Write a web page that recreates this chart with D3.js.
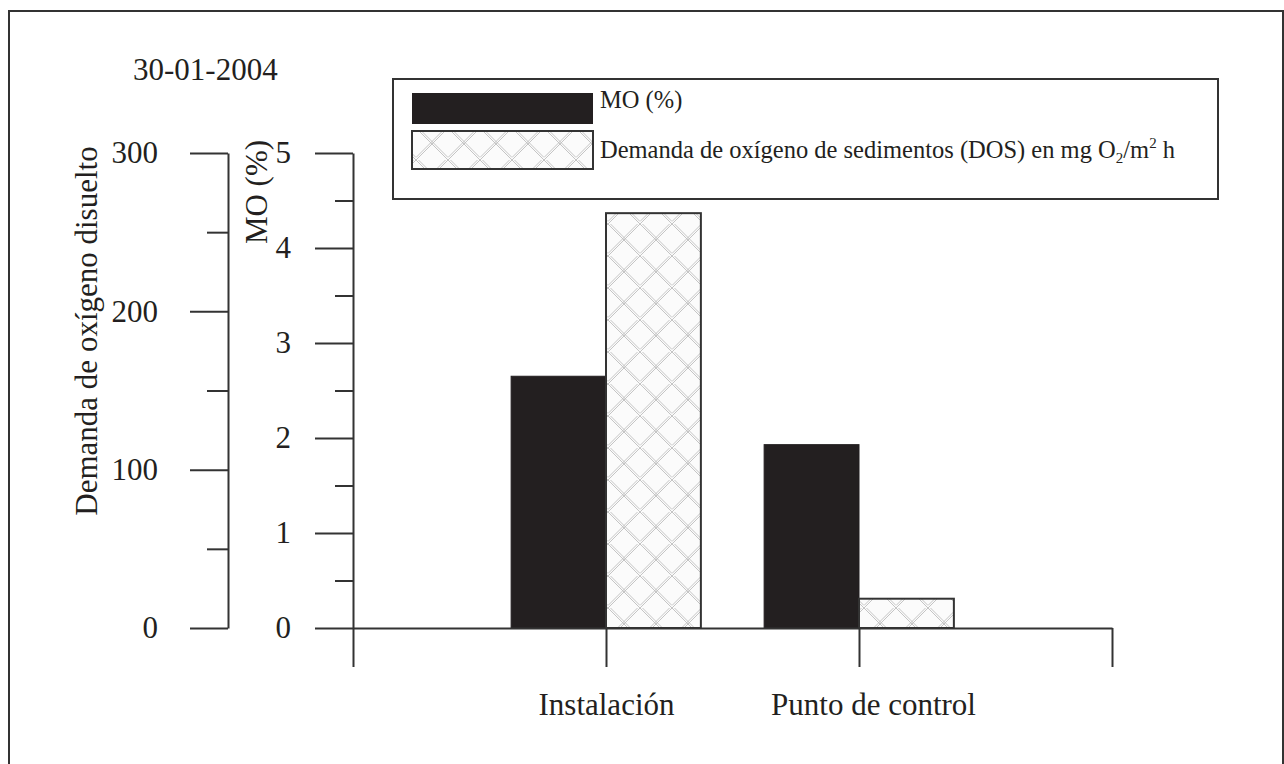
<!DOCTYPE html>
<html>
<head>
<meta charset="utf-8">
<script src="https://cdn.jsdelivr.net/npm/d3@7"></script>
<style>
  body { margin: 0; background: #fff; }
  text { font-family: "Liberation Serif", "Times New Roman", serif; fill: #231f20; }
  .axis path, .axis line { stroke: #333; stroke-width: 2; }
  .axis text { font-size: 31px; font-family: "Liberation Serif", "Times New Roman", serif; fill: #231f20; }
</style>
</head>
<body>
<div id="chart"></div>
<script>
// data
const title = "30-01-2004";
const categories = ["Instalación", "Punto de control"];
const moValues = [2.65, 1.93];      // MO (%), inner axis
const dosValues = [262, 18.5];      // DOS, outer axis
const moTicks = [0, 1, 2, 3, 4, 5];
const moMinorTicks = [0.5, 1.5, 2.5, 3.5, 4.5];
const dosTicks = [0, 100, 200, 300];
const dosMinorTicks = [50, 150, 250];
const legendLabels = ["MO (%)", "Demanda de oxígeno de sedimentos (DOS) en mg O"];

const width = 1284;
const height = 764;

const svg = d3.select("#chart").append("svg")
  .attr("width", width)
  .attr("height", height);

// cross hatch, light double lines
const defs = svg.append("defs");
const pat = defs.append("pattern")
  .attr("id", "hatch")
  .attr("patternUnits", "userSpaceOnUse")
  .attr("width", 32)
  .attr("height", 32);
pat.append("rect").attr("width", 32).attr("height", 32).attr("fill", "#fbfbfb");
pat.append("path")
  .attr("d", "M0,0L32,32M32,0L0,32M2.5,0L32,29.5M0,29.5L29.5,0")
  .attr("stroke", "#bdbdbd")
  .attr("stroke-width", 0.9)
  .attr("fill", "none");

// outer frame
svg.append("rect")
  .attr("x", 9).attr("y", 11)
  .attr("width", 1274).attr("height", 800)
  .attr("fill", "none")
  .attr("stroke", "#333")
  .attr("stroke-width", 2);

const yMO = d3.scaleLinear().domain([0, 5]).range([628, 153]);
const yDOS = d3.scaleLinear().domain([0, 300]).range([628, 153]);
const x = d3.scaleLinear().domain([0, 3]).range([353, 1112]);
const barW = x(0.375) - x(0);

// bars
const bars = svg.append("g");
bars.selectAll("rect.mo")
  .data(moValues)
  .join("rect")
  .attr("class", "mo")
  .attr("x", (d, i) => x(i + 1) - barW)
  .attr("y", d => yMO(d))
  .attr("width", barW)
  .attr("height", d => yMO(0) - yMO(d))
  .attr("fill", "#231f20")
  .attr("stroke", "#231f20")
  .attr("stroke-width", 1);

bars.selectAll("rect.dos")
  .data(dosValues)
  .join("rect")
  .attr("class", "dos")
  .attr("x", (d, i) => x(i + 1))
  .attr("y", d => yDOS(d))
  .attr("width", barW)
  .attr("height", d => yDOS(0) - yDOS(d))
  .attr("fill", "url(#hatch)")
  .attr("stroke", "#333")
  .attr("stroke-width", 2);

// outer axis (DOS)
svg.append("g")
  .attr("class", "axis")
  .attr("transform", "translate(228,0)")
  .call(d3.axisLeft(yDOS).tickValues(dosTicks).tickSize(38).tickPadding(32).tickSizeOuter(0));
svg.append("g")
  .attr("class", "axis")
  .attr("transform", "translate(228,0)")
  .call(d3.axisLeft(yDOS).tickValues(dosMinorTicks).tickSize(21).tickFormat("").tickSizeOuter(0))
  .call(g => g.select(".domain").remove());

// inner axis (MO)
svg.append("g")
  .attr("class", "axis")
  .attr("transform", "translate(353,0)")
  .call(d3.axisLeft(yMO).tickValues(moTicks).tickSize(38).tickPadding(24).tickSizeOuter(0)
    .tickFormat(d3.format("d")));
svg.append("g")
  .attr("class", "axis")
  .attr("transform", "translate(353,0)")
  .call(d3.axisLeft(yMO).tickValues(moMinorTicks).tickSize(18).tickFormat("").tickSizeOuter(0))
  .call(g => g.select(".domain").remove());

// x axis
svg.append("g")
  .attr("class", "axis")
  .attr("transform", "translate(0,628)")
  .call(d3.axisBottom(x).tickValues([0, 1, 2, 3]).tickSize(39).tickPadding(26).tickSizeOuter(0)
    .tickFormat(d => categories[d - 1] || ""))
  .call(g => g.selectAll(".tick text").filter(d => d === 2).attr("dx", 14));

// titles
svg.append("text")
  .attr("x", 133).attr("y", 80)
  .style("font-size", "31px")
  .text(title);

svg.append("text")
  .attr("transform", "translate(97,331) rotate(-90)")
  .attr("text-anchor", "middle")
  .style("font-size", "31px")
  .text("Demanda de oxígeno disuelto");

svg.append("text")
  .attr("transform", "translate(267,192) rotate(-90)")
  .attr("text-anchor", "middle")
  .style("font-size", "31px")
  .text("MO (%)");

// legend
const leg = svg.append("g");
leg.append("rect")
  .attr("x", 393).attr("y", 79)
  .attr("width", 825).attr("height", 120)
  .attr("fill", "#fff")
  .attr("stroke", "#333")
  .attr("stroke-width", 2);
leg.append("rect")
  .attr("x", 412).attr("y", 93)
  .attr("width", 181).attr("height", 31)
  .attr("fill", "#231f20");
leg.append("rect")
  .attr("x", 412).attr("y", 131)
  .attr("width", 181).attr("height", 38)
  .attr("fill", "url(#hatch)")
  .attr("stroke", "#333")
  .attr("stroke-width", 2);
leg.append("text")
  .attr("x", 600).attr("y", 108)
  .style("font-size", "24.5px")
  .text(legendLabels[0]);
const t2 = leg.append("text")
  .attr("x", 600).attr("y", 158)
  .style("font-size", "24.5px");
t2.append("tspan").text(legendLabels[1]);
t2.append("tspan").attr("dy", 5).style("font-size", "15px").text("2");
t2.append("tspan").attr("dy", -5).text("/m");
t2.append("tspan").attr("dy", -10).style("font-size", "15px").text("2");
t2.append("tspan").attr("dy", 10).text(" h");
</script>
</body>
</html>
